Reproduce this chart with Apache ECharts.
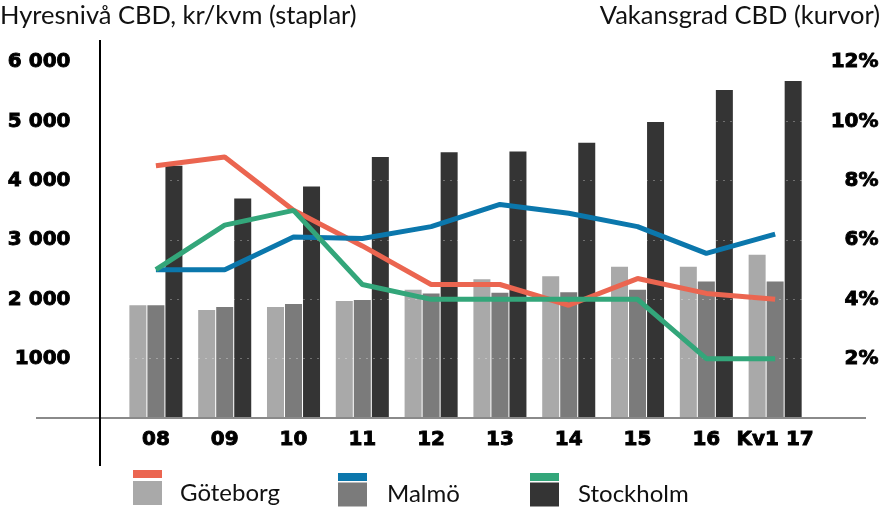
<!DOCTYPE html>
<html>
<head>
<meta charset="utf-8">
<script src="https://cdn.jsdelivr.net/npm/echarts@6/dist/echarts.min.js"></script>
<style>html,body{margin:0;padding:0;background:#fff}#c{width:882px;height:514px}</style>
</head>
<body>
<div id="c"></div>
<script>
const categories = ['08','09','10','11','12','13','14','15','16','Kv1 17'];
// Hyresnivå kr/kvm (staplar)
const rentGoteborg  = [1900,1820,1870,1970,2160,2340,2390,2550,2550,2750];
const rentMalmo     = [1900,1870,1920,1990,2100,2110,2120,2160,2300,2300];
const rentStockholm = [4250,3700,3900,4400,4480,4490,4640,4990,5530,5680];
// Vakansgrad % (kurvor)
const vacGoteborg  = [8.5,8.8,7.0,5.8,4.5,4.5,3.8,4.7,4.2,4.0];
const vacMalmo     = [5.0,5.0,6.1,6.05,6.45,7.2,6.9,6.45,5.55,6.2];
const vacStockholm = [5.0,6.5,7.0,4.5,4.0,4.0,4.0,4.0,2.0,2.0];
const leftTicks = [1000,2000,3000,4000,5000,6000];

const FONT = 'Lato';
const BFONT = 'DejaVu Sans';
const cRed='#EB6550', cBlue='#0B77AC', cGreen='#33A67A';
const cG1='#A9A9A9', cG2='#7B7B7B', cG3='#343434';

const chart = echarts.init(document.getElementById('c'));
const barCommon = {type:'bar', barWidth:17, barGap:'6%', yAxisIndex:0, z:2};
const lineCommon = {type:'line', yAxisIndex:1, symbol:'none', smooth:false, z:5};
function legendBox(name,left,top,h,withText,pad){
  return {data:[name], left:left, top:top, icon:'rect', itemWidth:29, itemHeight:h,
    selectedMode:false, padding:0,
    formatter: withText ? (n=>n) : (()=>''),
    textStyle:{fontFamily:FONT, fontSize:24, color:'#111', padding:pad||0}};
}
const tickStyle = {fontFamily:BFONT, fontWeight:'bold', fontSize:20, color:'#000',
  textBorderColor:'#000', textBorderWidth:0.9};
chart.setOption({
  animation:false,
  backgroundColor:'#fff',
  title:[
    {text:'Hyresnivå CBD, kr/kvm (staplar)', left:0, top:3, padding:0,
     textStyle:{fontFamily:FONT, fontSize:25.5, fontWeight:'normal', color:'#111'}},
    {text:'Vakansgrad CBD (kurvor)', right:2, top:3, padding:0,
     textStyle:{fontFamily:FONT, fontSize:25.5, fontWeight:'normal', color:'#111'}}
  ],
  grid:{left:121.5, right:70.5, top:62, bottom:96, containLabel:false},
  legend:[
    legendBox('Göteborg vakans',133,470,8,false),
    legendBox('Malmö vakans',338,473,8,false),
    legendBox('Stockholm vakans',530,473,8,false),
    legendBox('Göteborg',133,481,24,true,[0,0,8,13]),
    legendBox('Malmö',338,482.5,24,true,[0,0,0,15]),
    legendBox('Stockholm',530,482.5,24,true,[0,0,4,14])
  ],
  xAxis:{type:'category', data:categories, boundaryGap:true,
    axisLine:{show:false}, axisTick:{show:false}, splitLine:{show:false},
    axisLabel:Object.assign({interval:0, margin:12}, tickStyle)},
  yAxis:[
    {type:'value', min:0, max:6000, interval:1000, position:'left',
     axisLine:{show:false}, axisTick:{show:false}, splitLine:{show:false},
     axisLabel:Object.assign({margin:51, align:'right',
       formatter:v=> v===0 ? '' : (v===1000 ? '1000' : (v/1000)+' 000')}, tickStyle)},
    {type:'value', min:0, max:12, interval:2, position:'right',
     axisLine:{show:false}, axisTick:{show:false}, splitLine:{show:false},
     axisLabel:Object.assign({margin:69, align:'right',
       formatter:v=> v===0 ? '' : v+'%'}, tickStyle)}
  ],
  graphic:[
    {type:'line', shape:{x1:36,y1:418,x2:866,y2:418}, style:{stroke:'#8a8a8a', lineWidth:2}, z:10},
    {type:'line', shape:{x1:100,y1:40,x2:100,y2:466}, style:{stroke:'#000', lineWidth:2}, z:10}
  ],
  series:[
    Object.assign({name:'Göteborg', data:rentGoteborg, itemStyle:{color:cG1}}, barCommon),
    Object.assign({name:'Malmö', data:rentMalmo, itemStyle:{color:cG2}}, barCommon),
    Object.assign({name:'Stockholm', data:rentStockholm, itemStyle:{color:cG3},
      markLine:{silent:true, symbol:'none', label:{show:false}, z:3,
        lineStyle:{color:'rgba(255,255,255,0.6)', type:[1,6], width:1},
        data:leftTicks.map(t=>({yAxis:t}))}}, barCommon),
    Object.assign({name:'Göteborg vakans', data:vacGoteborg, itemStyle:{color:cRed}, lineStyle:{color:cRed, width:5}}, lineCommon),
    Object.assign({name:'Malmö vakans', data:vacMalmo, itemStyle:{color:cBlue}, lineStyle:{color:cBlue, width:5}}, lineCommon),
    Object.assign({name:'Stockholm vakans', data:vacStockholm, itemStyle:{color:cGreen}, lineStyle:{color:cGreen, width:5}}, lineCommon)
  ]
});
</script>
</body>
</html>
